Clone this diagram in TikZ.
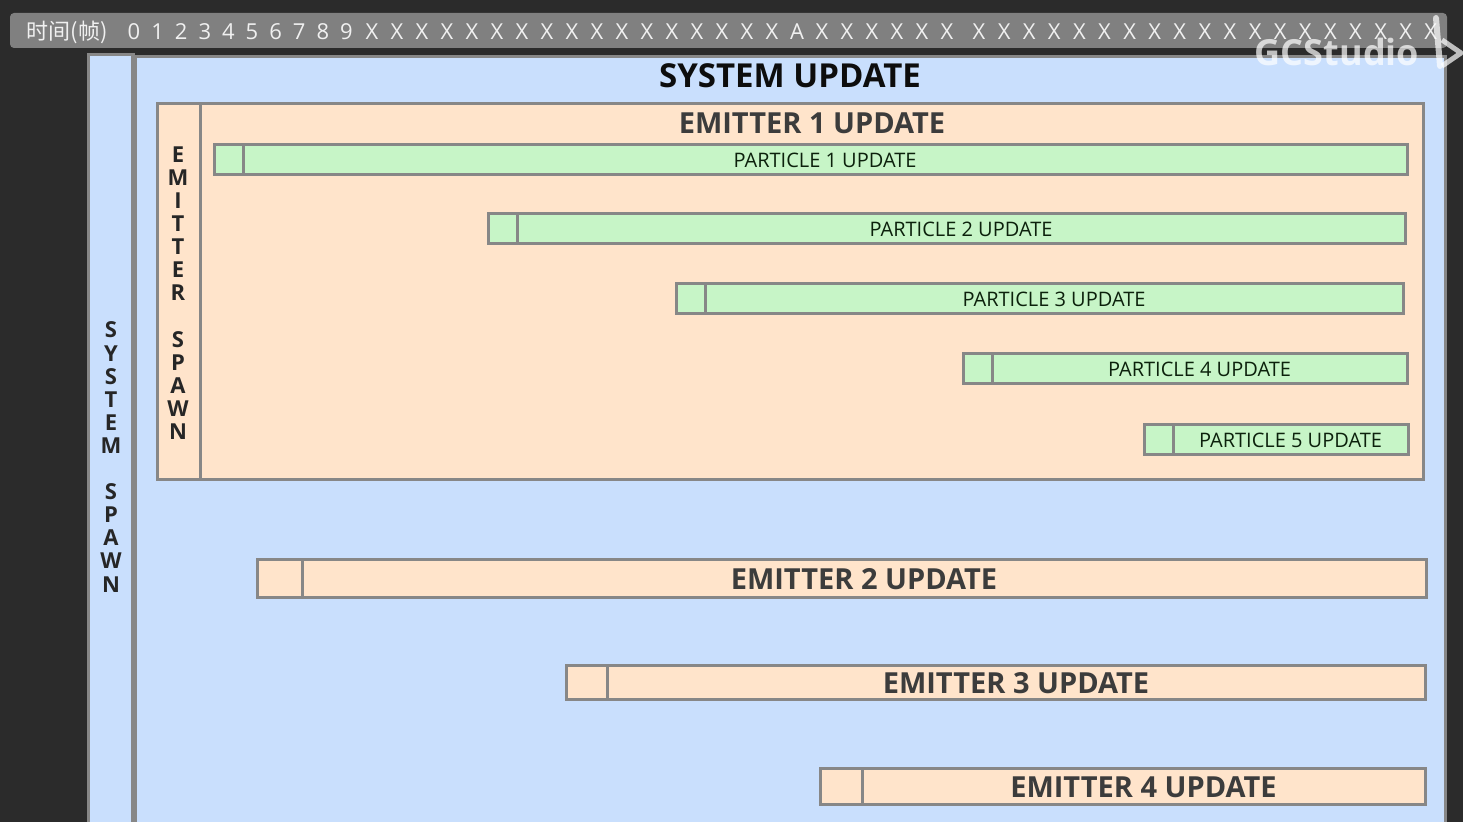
\documentclass[tikz,border=0pt]{standalone}
\usepackage{fontspec}
\setmainfont{Open Sans}
\newfontfamily\cjkfont{Noto Sans CJK SC}
\usetikzlibrary{positioning}
\definecolor{bgdark}{HTML}{2B2B2B}
\definecolor{bargray}{HTML}{808080}
\definecolor{edgegray}{HTML}{878787}
\definecolor{sysblue}{HTML}{C9DFFD}
\definecolor{empeach}{HTML}{FFE4CB}
\definecolor{ptgreen}{HTML}{C7F5C7}
\definecolor{inkdark}{HTML}{262626}

\begin{document}
\begin{tikzpicture}[
  x=0.5pt, y=-0.5pt,
  panel/.style={draw=edgegray, line width=1.5pt},
  tick/.style={text=white!94!black, font=\fontsize{11}{12}\selectfont, inner sep=0pt},
  vtext/.style={align=center, text=inkdark, inner sep=0pt,
    font=\fontsize{11}{11.55}\selectfont\bfseries},
  title/.style={text=inkdark, font=\fontsize{14.5}{16}\selectfont\bfseries, inner sep=0pt},
  ptsq/.style={panel, fill=ptgreen, outer sep=0pt, minimum width=14.5pt, minimum height=15pt, inner sep=0pt},
  ptbar/.style={panel, fill=ptgreen, outer sep=0pt, minimum height=15pt, inner sep=0pt,
    text=inkdark!80!green!40!black, font=\fontsize{10}{12}\selectfont},
  emsq/.style={panel, fill=empeach, outer sep=0pt, inner sep=0pt},
  embar/.style={panel, fill=empeach, outer sep=0pt, inner sep=0pt,
    text=inkdark!90, font=\fontsize{14.5}{16}\selectfont\bfseries},
]
\useasboundingbox (0,0) rectangle (1463,822);
\clip (0,0) rectangle (1463,822);
\fill[bgdark] (0,0) rectangle (1463,822);

% time axis
\fill[bargray, rounded corners=2pt] (10,13) rectangle (1447,48);
\node[tick] (axis) at (67,32) {\cjkfont 时间(帧)};
\foreach \d in {0,...,9}
  \node[tick] (t\d) at (134+23.6*\d,32) {\d};
\foreach \k in {0,...,23}{
  \ifnum\k=17 \def\c{A}\else\def\c{X}\fi
  \node[tick] (x\k) at (372+25*\k,32) {\c};
}
\foreach \k in {0,...,18}
  \node[tick] (y\k) at (979+25.1*\k,32) {X};

% system
\draw[panel, fill=sysblue] (88,55) rectangle (133,840);
\draw[panel, fill=sysblue] (135,57) rectangle (1445,840);
\draw[edgegray, line width=2pt] (133,55) -- (133,822);
\node[vtext] (sysspawn) at (111,457) {S\\Y\\S\\T\\E\\M\\[11.55pt]S\\P\\A\\W\\N};
\node[title, text=black!95, font=\fontsize{16.5}{18}\selectfont\bfseries] (sysup) at (790,76) {SYSTEM UPDATE};

% emitter 1
\draw[panel, fill=empeach] (157,104) rectangle (1423,480);
\draw[panel] (200,104) -- (200,480);
\node[vtext] (emspawn) at (178,293) {E\\M\\I\\T\\T\\E\\R\\[11.55pt]S\\P\\A\\W\\N};
\node[title, text=inkdark!90] (em1) at (812,123) {EMITTER 1 UPDATE};

% particles
\foreach \n/\xs/\ys/\xe in {1/214/145/1407, 2/488/214/1405, 3/676/284/1403,
                            4/963/354/1407, 5/1144/425/1408}{
  \node[ptsq, anchor=north west] (ps\n) at (\xs,\ys) {};
  \node[ptbar, right=0pt of ps\n, minimum width={(\xe-\xs-29)*0.5pt}] (pb\n) {PARTICLE \n\ UPDATE};
}

% emitters 2-4
\foreach \n/\xs/\ys/\w/\h/\xe in {2/257/560/45/38/1426, 3/566/666/41/34/1425, 4/820/769/42/36/1425}{
  \node[emsq, anchor=north west, minimum width=\w*0.5pt, minimum height=\h*0.5pt] (es\n) at (\xs,\ys) {};
  \node[embar, right=0pt of es\n, minimum height=\h*0.5pt,
        minimum width={(\xe-\xs-\w)*0.5pt}] (eb\n) {EMITTER \n\ UPDATE};
}

% watermark
\node[text=white, opacity=0.7, font=\fontsize{18}{20}\selectfont\bfseries, inner sep=0pt] (wm) at (1337,52) {GCStudio};
\draw[white, opacity=0.7, line width=3pt, line cap=round] (1436,18) -- (1440,66);
\draw[white, opacity=0.7, line width=2.5pt, line join=round] (1442,40) -- (1461,53) -- (1442,66);
\end{tikzpicture}
\end{document}
